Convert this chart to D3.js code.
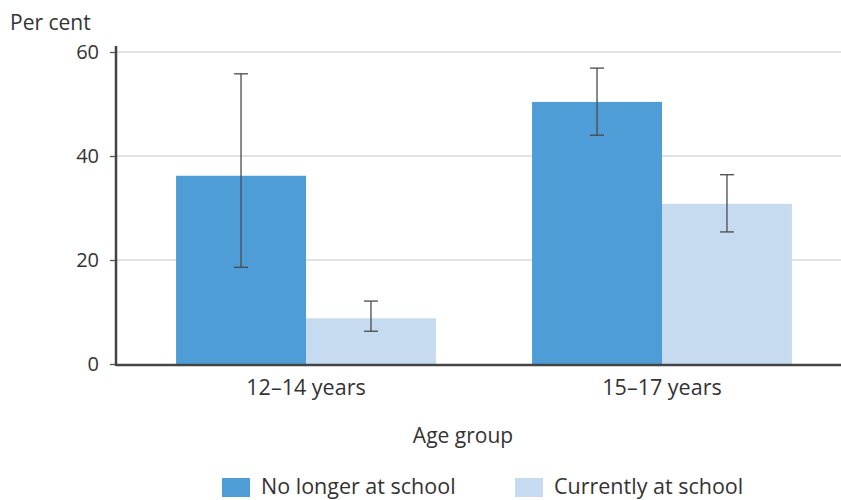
<!DOCTYPE html>
<html><head><meta charset="utf-8">
<script src="https://cdn.jsdelivr.net/npm/d3@7"></script>
<style>body{margin:0;background:#fff}svg{display:block}text{font-family:"Open Sans",sans-serif;fill:#333}</style>
</head><body><svg id="c" width="841" height="500"></svg>
<script>
const categories = ["12–14 years", "15–17 years"];
const seriesNames = ["No longer at school", "Currently at school"];
const noLonger = [36.2, 50.4];
const noLongerLow = [18.6, 44.0];
const noLongerHigh = [55.8, 56.9];
const current = [8.8, 30.8];
const currentLow = [6.3, 25.4];
const currentHigh = [12.1, 36.4];
const yTicks = [0, 20, 40, 60];
const colors = ["#4f9dd7", "#c6dbf0"];

const svg = d3.select("#c");
const y = d3.scaleLinear().domain([0, 60]).range([364, 52]);
const x0 = d3.scaleBand().domain(categories).range([128, 840]).paddingInner(0.27).paddingOuter(0.135);
const x1 = d3.scaleBand().domain(seriesNames).range([0, x0.bandwidth()]);

// gridlines
svg.append("g").selectAll("line").data(yTicks.filter(d => d > 0)).join("line")
  .attr("x1", 116).attr("x2", 841).attr("y1", d => y(d)).attr("y2", d => y(d))
  .attr("stroke", "#d6d9de").attr("stroke-width", 1.5);

const data = categories.map((c, i) => [
  {cat: c, s: seriesNames[0], v: noLonger[i], lo: noLongerLow[i], hi: noLongerHigh[i]},
  {cat: c, s: seriesNames[1], v: current[i], lo: currentLow[i], hi: currentHigh[i]}
]).flat();

svg.append("g").selectAll("rect").data(data).join("rect")
  .attr("x", d => x0(d.cat) + x1(d.s)).attr("width", x1.bandwidth())
  .attr("y", d => y(d.v)).attr("height", d => y(0) - y(d.v))
  .attr("fill", d => colors[seriesNames.indexOf(d.s)]);

const eb = svg.append("g").attr("stroke", "#4a4a4a").attr("stroke-width", 1.3);
data.forEach(d => {
  const cx = x0(d.cat) + x1(d.s) + x1.bandwidth() / 2;
  eb.append("line").attr("x1", cx).attr("x2", cx).attr("y1", y(d.hi)).attr("y2", y(d.lo));
  eb.append("line").attr("x1", cx - 7).attr("x2", cx + 7).attr("y1", y(d.hi)).attr("y2", y(d.hi));
  eb.append("line").attr("x1", cx - 7).attr("x2", cx + 7).attr("y1", y(d.lo)).attr("y2", y(d.lo));
});

// y axis
const yAxis = svg.append("g").attr("transform", "translate(116,0)")
  .call(d3.axisLeft(y).tickValues(yTicks).tickSize(6).tickPadding(11).tickFormat(d3.format("d")));
yAxis.select(".domain").remove();
yAxis.selectAll(".tick line").attr("stroke", "#555").attr("stroke-width", 1.3);
yAxis.selectAll(".tick text").attr("font-size", 20).attr("fill", "#333").attr("font-family", "'Open Sans', sans-serif");
svg.append("line").attr("x1", 116).attr("x2", 116).attr("y1", 46).attr("y2", 366)
  .attr("stroke", "#444").attr("stroke-width", 2.5);

// x axis
svg.append("line").attr("x1", 116).attr("x2", 841).attr("y1", 365).attr("y2", 365)
  .attr("stroke", "#444").attr("stroke-width", 2.5);
const xAxis = svg.append("g").attr("transform", "translate(0,365)")
  .call(d3.axisBottom(x0).tickSize(0).tickPadding(15));
xAxis.select(".domain").remove();
xAxis.selectAll(".tick text").attr("font-size", 21.5).attr("fill", "#333").attr("font-family", "'Open Sans', sans-serif");

svg.append("text").attr("x", 10).attr("y", 30).attr("font-size", 21).text("Per cent");
svg.append("text").attr("x", 463).attr("y", 443).attr("text-anchor", "middle").attr("font-size", 21).text("Age group");

// legend
const legX = [222, 515];
seriesNames.forEach((s, i) => {
  svg.append("rect").attr("x", legX[i]).attr("y", 478).attr("width", 28).attr("height", 19).attr("fill", colors[i]);
  svg.append("text").attr("x", legX[i] + 39).attr("y", 494).attr("font-size", 21.5).text(s);
});
</script></body></html>
